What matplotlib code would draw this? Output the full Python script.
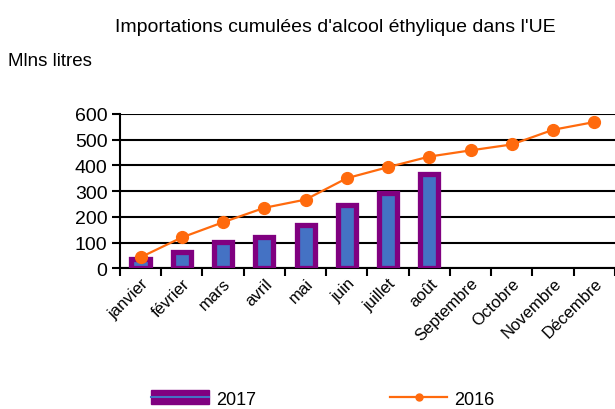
import matplotlib.pyplot as plt
from matplotlib.patches import Patch
from matplotlib.lines import Line2D
import numpy as np

plt.rcParams['font.family'] = ['Liberation Sans', 'DejaVu Sans']

mois = ['janvier', 'février', 'mars', 'avril', 'mai', 'juin', 'juillet', 'août',
        'Septembre', 'Octobre', 'Novembre', 'Décembre']
cumul_2017 = [37, 65, 104, 121, 167, 247, 294, 366]
cumul_2016 = [43, 120, 179, 235, 267, 350, 393, 434, 458, 481, 538, 568]

violet = '#800080'
bleu = '#4472C4'
orange = '#FF6A0D'

fig = plt.figure(figsize=(6.15, 4.10), dpi=100)
ax = fig.add_axes([0.195, 0.343, 0.805, 0.377])

x = np.arange(len(mois))
ax.bar(x[:len(cumul_2017)], cumul_2017, width=0.44, color=bleu,
       edgecolor=violet, linewidth=3.8, zorder=3)
ax.plot(x, cumul_2016, color=orange, linewidth=1.6, marker='o', markersize=8.5,
        markeredgecolor=orange, zorder=4)

ax.set_xlim(-0.5, len(mois) - 0.5)
ax.set_ylim(0, 600)
ax.set_yticks(range(0, 601, 100))
ax.yaxis.grid(True, color='black', linewidth=1.5)
ax.set_axisbelow(True)
for s in ['top', 'right']:
    ax.spines[s].set_visible(False)
ax.spines['left'].set_linewidth(1.5)
ax.spines['bottom'].set_linewidth(1.5)

# ticks entre les categories, etiquettes au centre
ax.set_xticks(np.arange(len(mois) + 1) - 0.5)
ax.set_xticklabels([])
ax.set_xticks(x, minor=True)
ax.set_xticklabels(mois, minor=True, rotation=45, ha='right', va='top',
                   rotation_mode='anchor', fontsize=12)
ax.tick_params(axis='x', which='minor', length=0, pad=5)
ax.tick_params(axis='x', which='major', length=6, width=1.5, direction='out')
ax.tick_params(axis='y', length=6, width=1.5, labelsize=14, pad=3)

fig.text(0.545, 0.934, "Importations cumulées d'alcool éthylique dans l'UE",
         ha='center', va='center', fontsize=14)
fig.text(0.013, 0.849, 'Mlns litres', ha='left', va='center', fontsize=13.5)

h2017 = (Patch(facecolor=violet, edgecolor=violet),
         Line2D([], [], color=bleu, linewidth=1.5))
h2016 = Line2D([], [], color=orange, linewidth=1.6, marker='o', markersize=5)
fig.legend([h2017, h2016], ['2017', '2016'], loc='center left',
           bbox_to_anchor=(151 / 615, 1 - 400 / 410), ncol=2, frameon=False,
           fontsize=13, columnspacing=7.4, handlelength=3.2, handleheight=0.8,
           handletextpad=0.4, borderpad=0, borderaxespad=0)

fig.savefig('out.png', dpi=100)
